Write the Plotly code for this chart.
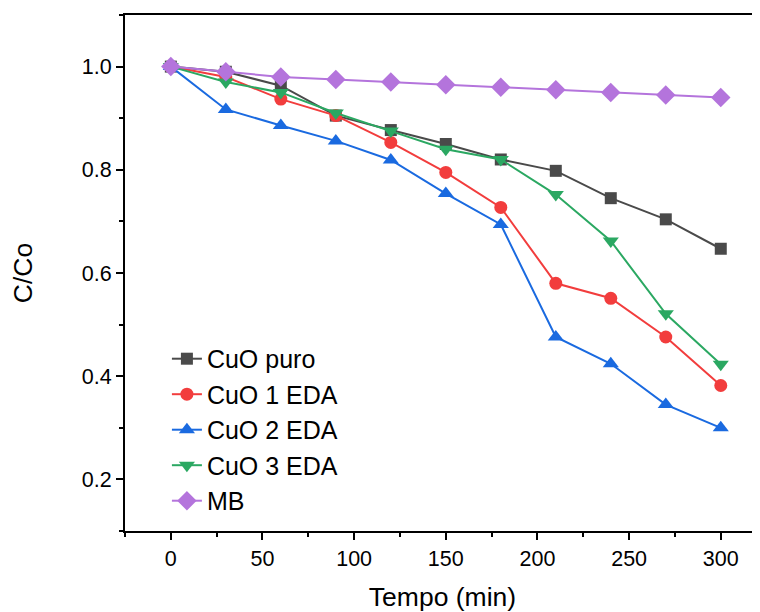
import plotly.graph_objects as go

tempo = [0, 30, 60, 90, 120, 150, 180, 210, 240, 270, 300]
cuo_puro = [1.0, 0.990, 0.963, 0.905, 0.877, 0.850, 0.820, 0.798, 0.745, 0.704, 0.647]
cuo_1eda = [1.0, 0.980, 0.937, 0.905, 0.853, 0.795, 0.727, 0.580, 0.551, 0.476, 0.382]
cuo_2eda = [1.0, 0.917, 0.886, 0.856, 0.819, 0.754, 0.694, 0.476, 0.424, 0.345, 0.300]
cuo_3eda = [1.0, 0.970, 0.950, 0.910, 0.875, 0.840, 0.820, 0.752, 0.662, 0.521, 0.423]
mb = [1.0, 0.990, 0.980, 0.975, 0.970, 0.965, 0.960, 0.955, 0.950, 0.945, 0.940]

names = ["CuO puro", "CuO 1 EDA", "CuO 2 EDA", "CuO 3 EDA", "MB"]
series = [cuo_puro, cuo_1eda, cuo_2eda, cuo_3eda, mb]
colors = ["#4a4a4a", "#f23d3d", "#1a6ae0", "#2ba862", "#b474dc"]
symbols = ["square", "circle", "triangle-up", "triangle-down", "diamond"]
sizes = [12, 13, 14, 14, 15]

fig = go.Figure()
for n, s, c, m, sz in zip(names, series, colors, symbols, sizes):
    fig.add_trace(go.Scatter(
        x=tempo, y=s, name=n, mode="lines+markers",
        line=dict(color=c, width=2),
        marker=dict(symbol=m, size=sz, color=c, line=dict(width=0)),
    ))

font_family = "Liberation Sans, Arial, sans-serif"
fig.update_layout(
    width=752, height=604,
    margin=dict(l=117, r=0, t=7, b=81),
    plot_bgcolor="white", paper_bgcolor="white",
    font=dict(family=font_family, color="black", size=21.5),
    showlegend=True,
    legend=dict(
        x=0.066, y=0.378, xanchor="left", yanchor="top",
        font=dict(size=25, family=font_family, color="black"),
        bgcolor="rgba(0,0,0,0)", tracegroupgap=0,
    ),
    xaxis=dict(
        range=[-25, 321.4], tick0=0, dtick=50,
        showline=True, linecolor="black", linewidth=2, mirror=True,
        ticks="outside", ticklen=7, tickwidth=1.5, tickcolor="black",
        minor=dict(ticks="outside", ticklen=4, tickwidth=1.5, tickcolor="black", tick0=-25, dtick=25),
        showgrid=False, zeroline=False, automargin=False,
        title=dict(text="Tempo (min)", font=dict(size=26.5), standoff=19),
        tickfont=dict(size=21.5),
    ),
    yaxis=dict(
        range=[0.1, 1.1], tick0=0.2, dtick=0.2, tickformat=".1f",
        showline=True, linecolor="black", linewidth=2, mirror=False,
        ticks="outside", ticklen=7, tickwidth=1.5, tickcolor="black",
        minor=dict(ticks="outside", ticklen=4, tickwidth=1.5, tickcolor="black", tick0=0.1, dtick=0.2),
        showgrid=False, zeroline=False, automargin=False,
        title=dict(text="C/Co", font=dict(size=26.5), standoff=43),
        tickfont=dict(size=21.5),
    ),
)

fig.write_html("out.html")
